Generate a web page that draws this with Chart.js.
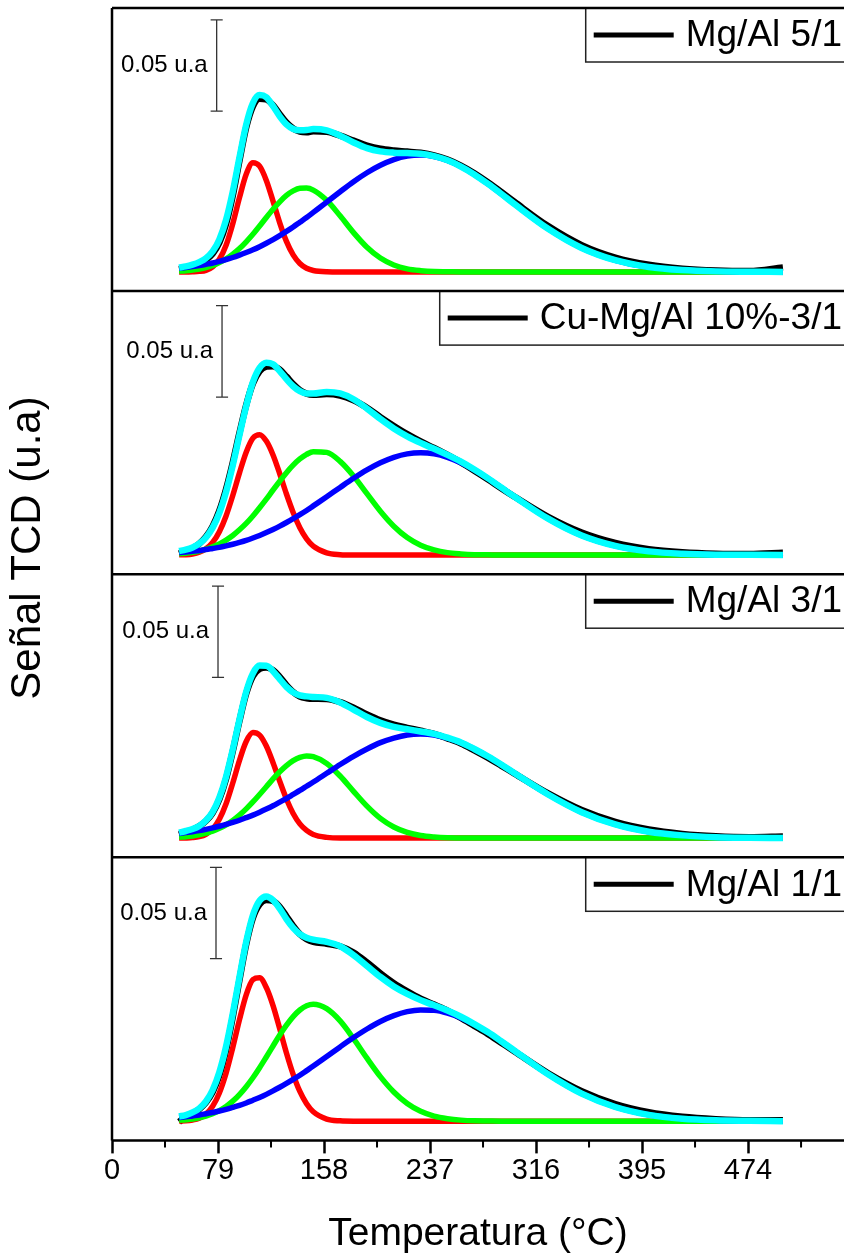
<!DOCTYPE html>
<html>
<head>
<meta charset="utf-8">
<script src="https://cdn.jsdelivr.net/npm/chart.js@4.4.1/dist/chart.umd.min.js"></script>
<style>
html, body { margin: 0; padding: 0; background: #fff; }
#wrap { width: 844px; height: 1258px; }
</style>
</head>
<body>
<div id="wrap"><canvas id="tpr" width="844" height="1258"></canvas></div>
<script>
// temperature grid (°C), shared by every curve
var temps = [50,55,60,65,70,75,80,85,90,95,100,105,110,115,120,125,130,135,140,145,150,
             160,170,180,190,200,210,220,230,240,250,260,270,280,290,300,
             325,350,375,400,425,450,475,500];

// x axis ticks
var majorTicks = [0, 79, 158, 237, 316, 395, 474];
var minorTicks = [39.5, 118.5, 197.5, 276.5, 355.5, 434.5, 513.5];

// sample names, top panel first
var samples = ['Mg/Al 5/1', 'Cu-Mg/Al 10%-3/1', 'Mg/Al 3/1', 'Mg/Al 1/1'];

// ---- Mg/Al 5/1 ----
var mg51Exp = [0.0014,0.0022,0.0034,0.0048,0.0067,0.0100,0.0160,0.0263,0.0418,0.0609,0.0791,0.0907,0.0948,0.0944,0.0913,0.0864,0.0818,0.0785,0.0768,0.0765,0.0770,
               0.0767,0.0746,0.0719,0.0692,0.0674,0.0665,0.0659,0.0652,0.0638,0.0615,0.0582,0.0540,0.0491,0.0438,0.0383,
               0.0251,0.0147,0.0079,0.0039,0.0018,0.0008,0.0005,0.0025];
var mg51Fit = [0.0024,0.0030,0.0040,0.0054,0.0075,0.0112,0.0178,0.0285,0.0440,0.0627,0.0806,0.0925,0.0968,0.0956,0.0908,0.0852,0.0808,0.0783,0.0776,0.0777,0.0782,
               0.0775,0.0746,0.0709,0.0678,0.0660,0.0653,0.0651,0.0647,0.0634,0.0611,0.0577,0.0534,0.0483,0.0428,0.0371,
               0.0236,0.0131,0.0064,0.0027,0.0010,0.0003,0.0001,0.0000];
var mg51Pk1 = [0.0000,0.0000,0.0001,0.0003,0.0009,0.0028,0.0069,0.0146,0.0264,0.0407,0.0535,0.0598,0.0579,0.0501,0.0388,0.0269,0.0167,0.0093,0.0046,0.0020,0.0008,
               0.0001,0,0,0,0,0,0,0,0,0,0,0,0,0,0,
               0,0,0,0,0,0,0,0];
var mg51Pk2 = [0.0004,0.0006,0.0010,0.0016,0.0024,0.0035,0.0051,0.0071,0.0097,0.0128,0.0165,0.0206,0.0251,0.0298,0.0343,0.0384,0.0419,0.0444,0.0458,0.0459,0.0448,
               0.0392,0.0307,0.0215,0.0135,0.0076,0.0038,0.0017,0.0007,0.0002,0.0001,0,0,0,0,0,
               0,0,0,0,0,0,0,0];
var mg51Pk3 = [0.0020,0.0024,0.0029,0.0035,0.0042,0.0049,0.0058,0.0068,0.0079,0.0092,0.0106,0.0121,0.0138,0.0157,0.0177,0.0199,0.0222,0.0246,0.0272,0.0298,0.0326,
               0.0382,0.0439,0.0494,0.0543,0.0584,0.0615,0.0634,0.0640,0.0632,0.0610,0.0577,0.0534,0.0483,0.0428,0.0371,
               0.0236,0.0131,0.0064,0.0027,0.0010,0.0003,0.0001,0.0000];

// ---- Cu-Mg/Al 10%-3/1 ----
var cu31Exp = [0.0008,0.0021,0.0037,0.0062,0.0100,0.0158,0.0243,0.0361,0.0507,0.0669,0.0821,0.0939,0.1007,0.1031,0.1034,0.1015,0.0977,0.0936,0.0903,0.0884,0.0878,
               0.0881,0.0873,0.0847,0.0806,0.0755,0.0707,0.0662,0.0622,0.0586,0.0548,0.0507,0.0462,0.0415,0.0366,0.0319,
               0.0209,0.0123,0.0066,0.0032,0.0015,0.0007,0.0005,0.0012];
var cu31Fit = [0.0022,0.0029,0.0041,0.0062,0.0096,0.0150,0.0231,0.0346,0.0492,0.0657,0.0816,0.0947,0.1025,0.1053,0.1044,0.1007,0.0963,0.0924,0.0897,0.0884,0.0884,
               0.0893,0.0885,0.0853,0.0802,0.0745,0.0693,0.0650,0.0614,0.0582,0.0548,0.0511,0.0468,0.0421,0.0370,0.0319,
               0.0199,0.0107,0.0050,0.0020,0.0007,0.0002,0.0001,0.0000];
var cu31Pk1 = [0.0001,0.0002,0.0006,0.0015,0.0034,0.0069,0.0128,0.0214,0.0326,0.0450,0.0563,0.0640,0.0659,0.0624,0.0548,0.0445,0.0334,0.0233,0.0150,0.0089,0.0049,
               0.0012,0.0002,0,0,0,0,0,0,0,0,0,0,0,0,0,
               0,0,0,0,0,0,0,0];
var cu31Pk2 = [0.0007,0.0010,0.0015,0.0022,0.0032,0.0045,0.0061,0.0082,0.0107,0.0138,0.0173,0.0214,0.0259,0.0306,0.0356,0.0404,0.0451,0.0492,0.0526,0.0551,0.0566,
               0.0562,0.0513,0.0433,0.0336,0.0240,0.0158,0.0096,0.0054,0.0028,0.0013,0.0006,0.0002,0.0001,0,0,
               0,0,0,0,0,0,0,0];
var cu31Pk3 = [0.0014,0.0017,0.0020,0.0025,0.0030,0.0036,0.0042,0.0050,0.0059,0.0069,0.0080,0.0093,0.0107,0.0123,0.0140,0.0158,0.0178,0.0199,0.0221,0.0244,0.0269,
               0.0319,0.0370,0.0420,0.0466,0.0505,0.0535,0.0554,0.0560,0.0554,0.0535,0.0505,0.0466,0.0420,0.0370,0.0319,
               0.0199,0.0107,0.0050,0.0020,0.0007,0.0002,0.0001,0.0000];

// ---- Mg/Al 3/1 ----
var mg31Exp = [0.0020,0.0033,0.0046,0.0065,0.0094,0.0138,0.0212,0.0324,0.0475,0.0642,0.0791,0.0887,0.0927,0.0934,0.0920,0.0883,0.0838,0.0800,0.0775,0.0766,0.0763,
               0.0762,0.0745,0.0714,0.0677,0.0645,0.0621,0.0604,0.0588,0.0571,0.0546,0.0518,0.0480,0.0440,0.0397,0.0353,
               0.0245,0.0154,0.0089,0.0047,0.0023,0.0010,0.0005,0.0009];
var mg31Fit = [0.0030,0.0039,0.0050,0.0067,0.0096,0.0144,0.0222,0.0336,0.0485,0.0650,0.0801,0.0902,0.0945,0.0944,0.0914,0.0871,0.0828,0.0798,0.0781,0.0776,0.0773,
               0.0768,0.0743,0.0704,0.0663,0.0631,0.0609,0.0596,0.0584,0.0571,0.0550,0.0524,0.0488,0.0448,0.0403,0.0355,
               0.0239,0.0142,0.0075,0.0035,0.0015,0.0005,0.0002,0.0001];
var mg31Pk1 = [0.0000,0.0001,0.0003,0.0008,0.0021,0.0050,0.0103,0.0188,0.0302,0.0426,0.0529,0.0578,0.0564,0.0504,0.0413,0.0311,0.0214,0.0135,0.0078,0.0042,0.0020,
               0.0004,0,0,0,0,0,0,0,0,0,0,0,0,0,0,
               0,0,0,0,0,0,0,0];
var mg31Pk2 = [0.0005,0.0008,0.0012,0.0018,0.0027,0.0038,0.0054,0.0073,0.0097,0.0126,0.0160,0.0198,0.0239,0.0281,0.0324,0.0363,0.0397,0.0424,0.0442,0.0450,0.0446,
               0.0409,0.0340,0.0256,0.0175,0.0108,0.0061,0.0031,0.0014,0.0006,0.0002,0.0001,0,0,0,0,
               0,0,0,0,0,0,0,0];
var mg31Pk3 = [0.0025,0.0030,0.0035,0.0041,0.0048,0.0056,0.0065,0.0075,0.0086,0.0098,0.0112,0.0126,0.0142,0.0159,0.0177,0.0197,0.0217,0.0239,0.0261,0.0284,0.0307,
               0.0355,0.0403,0.0448,0.0488,0.0523,0.0548,0.0565,0.0570,0.0565,0.0548,0.0523,0.0488,0.0448,0.0403,0.0355,
               0.0239,0.0142,0.0075,0.0035,0.0015,0.0005,0.0002,0.0001];

// ---- Mg/Al 1/1 ----
var mg11Exp = [-0.0003,0.0024,0.0042,0.0066,0.0102,0.0159,0.0251,0.0389,0.0571,0.0774,0.0969,0.1113,0.1188,0.1211,0.1206,0.1174,0.1122,0.1069,0.1024,0.0997,0.0982,
               0.0972,0.0958,0.0924,0.0870,0.0810,0.0756,0.0711,0.0671,0.0639,0.0606,0.0566,0.0522,0.0478,0.0430,0.0382,
               0.0263,0.0165,0.0094,0.0049,0.0024,0.0011,0.0005,0.0006];
var mg11Fit = [0.0026,0.0034,0.0048,0.0070,0.0108,0.0171,0.0269,0.0409,0.0589,0.0789,0.0981,0.1128,0.1208,0.1231,0.1211,0.1164,0.1107,0.1059,0.1024,0.1005,0.0994,
               0.0982,0.0958,0.0910,0.0850,0.0790,0.0738,0.0697,0.0663,0.0635,0.0606,0.0572,0.0532,0.0488,0.0438,0.0386,
               0.0257,0.0151,0.0078,0.0035,0.0014,0.0005,0.0002,0.0000];
var mg11Pk1 = [0.0001,0.0002,0.0007,0.0017,0.0039,0.0082,0.0155,0.0263,0.0403,0.0556,0.0692,0.0775,0.0785,0.0732,0.0633,0.0506,0.0374,0.0257,0.0163,0.0096,0.0052,
               0.0012,0.0002,0,0,0,0,0,0,0,0,0,0,0,0,0,
               0,0,0,0,0,0,0,0];
var mg11Pk2 = [0.0005,0.0008,0.0012,0.0019,0.0028,0.0041,0.0058,0.0081,0.0110,0.0146,0.0189,0.0238,0.0293,0.0352,0.0412,0.0472,0.0526,0.0573,0.0609,0.0632,0.0640,
               0.0616,0.0549,0.0452,0.0345,0.0244,0.0160,0.0097,0.0054,0.0028,0.0014,0.0006,0.0002,0.0001,0,0,
               0,0,0,0,0,0,0,0];
var mg11Pk3 = [0.0020,0.0024,0.0029,0.0034,0.0041,0.0048,0.0056,0.0065,0.0076,0.0087,0.0100,0.0115,0.0130,0.0147,0.0166,0.0186,0.0207,0.0229,0.0252,0.0277,0.0302,
               0.0354,0.0407,0.0458,0.0505,0.0546,0.0578,0.0600,0.0609,0.0607,0.0592,0.0566,0.0530,0.0487,0.0438,0.0386,
               0.0257,0.0151,0.0078,0.0035,0.0014,0.0005,0.0002,0.0000];

// 0.05 u.a scale bars: temperature where the bar stands and its lower end
var barTemp = [78, 82, 79, 77.5];
var barLow  = [0.088, 0.0865, 0.088, 0.089];
var barSpan = 0.05;

var panels = [
    {exp: mg51Exp, fit: mg51Fit, pk: [mg51Pk1, mg51Pk2, mg51Pk3]},
    {exp: cu31Exp, fit: cu31Fit, pk: [cu31Pk1, cu31Pk2, cu31Pk3]},
    {exp: mg31Exp, fit: mg31Fit, pk: [mg31Pk1, mg31Pk2, mg31Pk3]},
    {exp: mg11Exp, fit: mg11Fit, pk: [mg11Pk1, mg11Pk2, mg11Pk3]}
];

var FONT = '"Liberation Sans", Arial, sans-serif';

function pts(arr) {
    return temps.map(function (t, i) { return {x: t, y: arr[i]}; });
}

function curve(arr, color, width, order, yid) {
    return {
        data: pts(arr),
        borderColor: color,
        borderWidth: width,
        pointRadius: 0,
        fill: false,
        cubicInterpolationMode: 'monotone',
        order: order,
        yAxisID: yid
    };
}

var datasets = [];
var scales = {
    x: {
        type: 'linear',
        min: 0,
        max: 545.5,
        afterBuildTicks: function (s) {
            s.ticks = majorTicks.map(function (v) { return {value: v}; });
        },
        ticks: {
            autoSkip: false,
            maxRotation: 0,
            padding: 0,
            color: '#000',
            font: {family: FONT, size: 29}
        },
        grid: {
            display: true,
            drawOnChartArea: false,
            drawTicks: true,
            tickLength: 13,
            tickWidth: 2.5,
            tickColor: '#000'
        },
        border: {display: false},
        title: {
            display: true,
            text: 'Temperatura (°C)',
            color: '#000',
            font: {family: FONT, size: 39},
            padding: {top: 23, bottom: 0}
        }
    }
};

// stacked y axes: the one declared last ends up on top
for (var k = panels.length - 1; k >= 0; k--) {
    scales['y' + k] = {
        type: 'linear',
        position: 'left',
        stack: 'tcd',
        stackWeight: 1,
        min: -0.0105,
        max: 0.1445,
        ticks: {display: false},
        grid: {display: false, drawTicks: false},
        border: {display: false}
    };
}

var peakColors = ['#FF0000', '#00FF00', '#0000FF'];

panels.forEach(function (p, i) {
    var yid = 'y' + i;
    datasets.push(curve(p.exp, '#000000', 6.5, 5, yid));
    datasets.push(curve(p.pk[0], peakColors[0], 5.5, 4, yid));
    datasets.push(curve(p.pk[1], peakColors[1], 5.5, 3, yid));
    datasets.push(curve(p.pk[2], peakColors[2], 5.5, 2, yid));
    datasets.push(curve(p.fit, '#00FFFF', 6.5, 1, yid));

    // scale bar with end caps
    var bx = barTemp[i], lo = barLow[i], hi = lo + barSpan;
    datasets.push({
        data: [{x: bx - 4.5, y: hi}, {x: bx + 4.5, y: hi}, {x: bx, y: hi},
               {x: bx, y: lo}, {x: bx - 4.5, y: lo}, {x: bx + 4.5, y: lo}],
        borderColor: '#333333',
        borderWidth: 1.3,
        pointRadius: 0,
        tension: 0,
        fill: false,
        order: 0,
        yAxisID: yid
    });
});

// frames, minor ticks, scale labels, per panel legends, y title
var decor = {
    id: 'decor',
    afterDatasetsDraw: function (chart) {
        var ctx = chart.ctx, a = chart.chartArea, xs = chart.scales.x;
        ctx.save();

        // legend boxes
        ctx.font = '37px ' + FONT;
        panels.forEach(function (p, i) {
            var s = chart.scales['y' + i];
            var top = s.top, h = 54, mid = top + h / 2;
            var w = ctx.measureText(samples[i]).width;
            var textLeft = 842 - w;
            var lineR = textLeft - 12, lineL = lineR - 80, boxL = lineL - 8;
            ctx.fillStyle = '#fff';
            ctx.fillRect(boxL, top, a.right - boxL + 5, h);
            ctx.strokeStyle = '#222';
            ctx.lineWidth = 1.5;
            ctx.strokeRect(boxL, top, a.right - boxL + 5, h);
            ctx.strokeStyle = '#000';
            ctx.lineWidth = 5;
            ctx.beginPath();
            ctx.moveTo(lineL, mid);
            ctx.lineTo(lineR, mid);
            ctx.stroke();
            ctx.fillStyle = '#000';
            ctx.textAlign = 'left';
            ctx.textBaseline = 'middle';
            ctx.fillText(samples[i], textLeft, mid + 1);
        });

        // panel frames
        ctx.strokeStyle = '#000';
        ctx.lineWidth = 2.5;
        ctx.beginPath();
        ctx.moveTo(a.left, a.bottom);
        ctx.lineTo(a.left, a.top);
        panels.forEach(function (p, i) {
            var s = chart.scales['y' + i];
            ctx.moveTo(a.left, s.top);
            ctx.lineTo(a.right, s.top);
        });
        ctx.moveTo(a.left, a.bottom);
        ctx.lineTo(a.right, a.bottom);
        ctx.stroke();

        // minor ticks
        ctx.lineWidth = 2;
        ctx.beginPath();
        minorTicks.forEach(function (v) {
            var px = xs.getPixelForValue(v);
            ctx.moveTo(px, a.bottom);
            ctx.lineTo(px, a.bottom + 7);
        });
        ctx.stroke();

        // 0.05 u.a labels
        ctx.font = '24px ' + FONT;
        ctx.fillStyle = '#000';
        ctx.textAlign = 'right';
        ctx.textBaseline = 'middle';
        panels.forEach(function (p, i) {
            var s = chart.scales['y' + i];
            var ym = s.getPixelForValue(barLow[i] + barSpan / 2);
            ctx.fillText('0.05 u.a', xs.getPixelForValue(barTemp[i]) - 9, ym);
        });

        // y axis title
        ctx.translate(28, 548);
        ctx.rotate(-Math.PI / 2);
        ctx.font = '42px ' + FONT;
        ctx.textAlign = 'center';
        ctx.fillText('Señal TCD (u.a)', 0, 0);
        ctx.restore();
    }
};

new Chart(document.getElementById('tpr'), {
    type: 'line',
    data: {datasets: datasets},
    options: {
        responsive: false,
        animation: false,
        layout: {padding: {left: 112, top: 8, right: 0, bottom: 0}},
        plugins: {legend: {display: false}, tooltip: {enabled: false}},
        scales: scales
    },
    plugins: [decor]
});
</script>
</body>
</html>
